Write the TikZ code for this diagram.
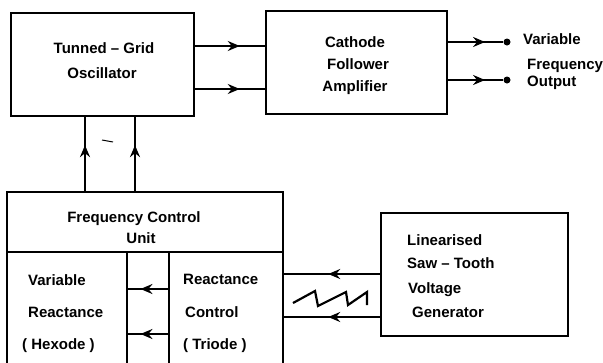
\documentclass[tikz,border=0pt]{standalone}
\usepackage{fontspec}
\setmainfont{Liberation Sans}
\usetikzlibrary{arrows.meta,decorations.markings}
\begin{document}
\begin{tikzpicture}[x=1pt,y=-1pt,
  blk/.style={draw, rectangle, line width=2.2pt, inner sep=0pt},
  lbl/.style={font=\fontsize{15}{17}\selectfont\bfseries, inner sep=0pt},
  wire/.style={line width=2.2pt},
  midarrow/.style={postaction={decorate}, decoration={markings,
     mark=at position #1 with {\arrow{Stealth[length=12pt,width=10pt,inset=4pt]}}}},
  dot/.style={circle, fill, inner sep=0pt, minimum size=7pt}]
\useasboundingbox (0,0) rectangle (603,362);
\clip (0,0) rectangle (603,362);

% blocks
\node[blk, minimum width=183pt, minimum height=103pt] (osc) at (102.5,64.5) {};
\node[blk, minimum width=181pt, minimum height=103pt] (cfa) at (356.5,62.5) {};
\node[blk, minimum width=276pt, minimum height=60pt] (fcu) at (145,222) {};
\node[blk, minimum width=120pt, minimum height=128pt] (vr) at (67,316) {};
\node[blk, minimum width=114pt, minimum height=128pt] (rc) at (226,316) {};
\node[blk, minimum width=187pt, minimum height=123pt] (gen) at (474.5,274.5) {};
\node[dot] (o1) at (507,42) {};
\node[dot] (o2) at (507,80) {};

% texts
\node[lbl, anchor=base] (t1) at (104,53) {Tunned – Grid};
\node[lbl, anchor=base] (t2) at (102,78) {Oscillator};
\node[lbl, anchor=base] (t3) at (355,47) {Cathode};
\node[lbl, anchor=base] (t4) at (358,69) {Follower};
\node[lbl, anchor=base] (t5) at (355,91) {Amplifier};
\node[lbl, anchor=base west] (t6) at (523,44) {Variable};
\node[lbl, anchor=base west] (t7) at (527,69) {Frequency};
\node[lbl, anchor=base west] (t8) at (527,86) {Output};
\node[lbl, anchor=base] (t9) at (134,222) {Frequency Control};
\node[lbl, anchor=base] (t10) at (141,243) {Unit};
\node[lbl, anchor=base west] (t11) at (28,285) {Variable};
\node[lbl, anchor=base west] (t12) at (28,317) {Reactance};
\node[lbl, anchor=base west] (t13) at (22,349) {( Hexode )};
\node[lbl, anchor=base west] (t14) at (183,284) {Reactance};
\node[lbl, anchor=base west] (t15) at (185,317) {Control};
\node[lbl, anchor=base west] (t16) at (183,349) {( Triode )};
\node[lbl, anchor=base west] (t17) at (407,245) {Linearised};
\node[lbl, anchor=base west] (t18) at (407,268) {Saw – Tooth};
\node[lbl, anchor=base west] (t19) at (408,293) {Voltage};
\node[lbl, anchor=base west] (t20) at (412,317) {Generator};

% connectors
\draw[wire, midarrow=0.64] (osc.east |- 0,46) -- (cfa.west |- 0,46);
\draw[wire, midarrow=0.64] (osc.east |- 0,89) -- (cfa.west |- 0,89);
\draw[wire, midarrow=0.67] (cfa.east |- o1) -- (o1);
\draw[wire, midarrow=0.67] (cfa.east |- o2) -- (o2);
\draw[wire, midarrow=0.62] (fcu.north -| 85,0) -- (osc.south -| 85,0);
\draw[wire, midarrow=0.62] (fcu.north -| 135,0) -- (osc.south -| 135,0);
\draw[wire, midarrow=0.69] (rc.west |- 0,289) -- (vr.east |- 0,289);
\draw[wire, midarrow=0.69] (rc.west |- 0,334) -- (vr.east |- 0,334);
\draw[wire, midarrow=0.54] (gen.west |- 0,274) -- (rc.east |- 0,274);
\draw[wire, midarrow=0.54] (gen.west |- 0,317) -- (rc.east |- 0,317);

% saw-tooth symbol and stray mark
\draw[wire, line join=miter] (293,303) -- (315,291) -- (318,306) -- (346,292)
  -- (348,305) -- (367,292) -- (367,305);
\draw[line width=1pt] (102,140) -- (113,142);
\end{tikzpicture}
\end{document}
